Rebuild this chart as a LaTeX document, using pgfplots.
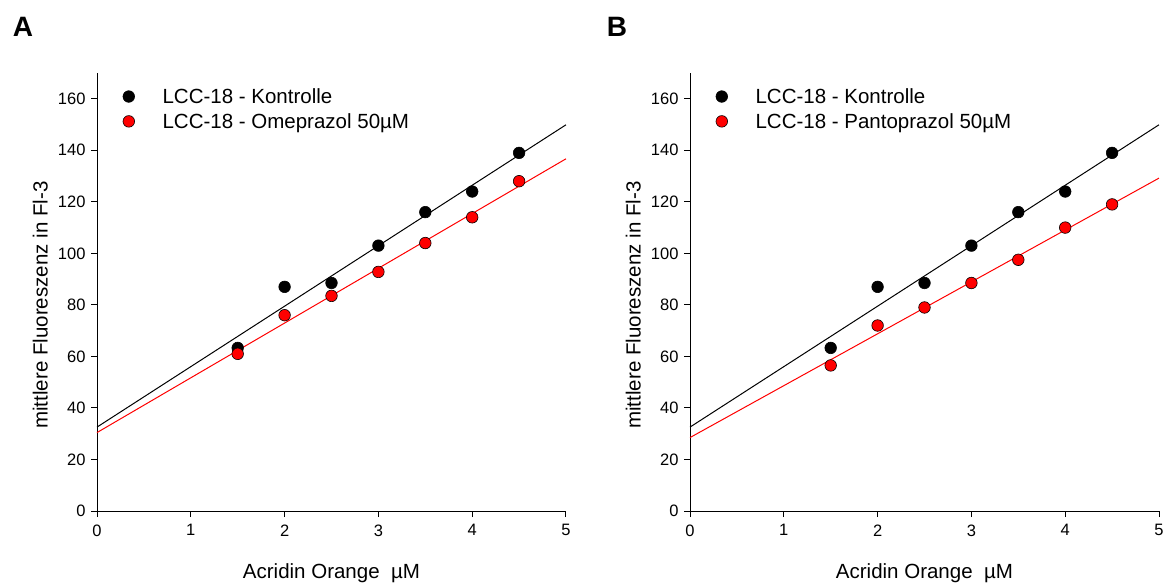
\documentclass[border=0pt]{standalone}
\usepackage{pgfplots}
\pgfplotsset{compat=1.18}
\usepackage{fontspec}
\setmainfont{Liberation Sans}
\pgfplotstableread{
x k o p
1.5 63.3 61.0 56.5
2.0 87.0 76.0 72.0
2.5 88.5 83.5 79.0
3.0 103.0 92.8 88.5
3.5 116.0 104.0 97.5
4.0 124.0 114.0 110.0
4.5 139.0 128.0 119.0
}\data
\pgfplotsset{
  panel/.style={
    scale only axis, width=469pt, height=438pt, anchor=south west,
    xmin=0, xmax=5, ymin=0, ymax=170,
    axis lines*=left, axis line style={line width=1pt, black},
    tick align=outside, major tick length=6pt,
    every tick/.style={line width=1pt, black},
    xtick={0,1,2,3,4,5}, ytick={0,20,...,160},
    tick label style={font=\fontsize{16.5}{19}\selectfont},
    xticklabel style={yshift=-4pt},
    yticklabel style={xshift=-2pt},
    /pgf/number format/assume math mode=true,
    xlabel={Acridin Orange\ \ µM},
    ylabel={mittlere Fluoreszenz in Fl-3},
    every axis x label/.style={at={(axis description cs:0.5,-0.142)}, anchor=center, font=\fontsize{20.5}{24}\selectfont},
    every axis y label/.style={at={(axis description cs:-0.121,0.47)}, rotate=90, anchor=center, font=\fontsize{20.5}{24}\selectfont},
    legend style={at={(axis description cs:0.055,0.97)}, anchor=north west, draw=none, fill=none,
      font=\fontsize{20.5}{24}\selectfont, row sep=4.5pt, inner sep=0pt,
      /tikz/every odd column/.append style={column sep=26pt}},
    legend cell align=left,
    clip=false,
  },
  km/.style={only marks, mark=*, mark size=5.8pt, mark options={fill=black, draw=black, line width=0.6pt}},
  rm/.style={only marks, mark=*, mark size=5.8pt, mark options={fill=red, draw=black, line width=0.6pt}},
}
\begin{document}
\begin{tikzpicture}
\path[use as bounding box] (0,0) rectangle (1165pt,584pt);
\node[font=\fontsize{28}{32}\selectfont\bfseries] at (23pt,557pt) {A};
\node[font=\fontsize{28}{32}\selectfont\bfseries] at (617pt,557pt) {B};
\begin{axis}[panel, at={(97pt,73pt)}]
\addplot[black, line width=1pt, forget plot] coordinates {(0,32.56) (5,149.9)};
\addplot[red, line width=1pt, forget plot] coordinates {(0,30.44) (5,136.7)};
\addplot[km] table[x=x, y=k] {\data};
\addplot[rm] table[x=x, y=o] {\data};
\legend{LCC-18 - Kontrolle, LCC-18 - Omeprazol 50µM}
\end{axis}
\begin{axis}[panel, at={(690pt,73pt)}]
\addplot[black, line width=1pt, forget plot] coordinates {(0,32.56) (5,149.9)};
\addplot[red, line width=1pt, forget plot] coordinates {(0,28.5) (5,129.2)};
\addplot[km] table[x=x, y=k] {\data};
\addplot[rm] table[x=x, y=p] {\data};
\legend{LCC-18 - Kontrolle, LCC-18 - Pantoprazol 50µM}
\end{axis}
\end{tikzpicture}
\end{document}
